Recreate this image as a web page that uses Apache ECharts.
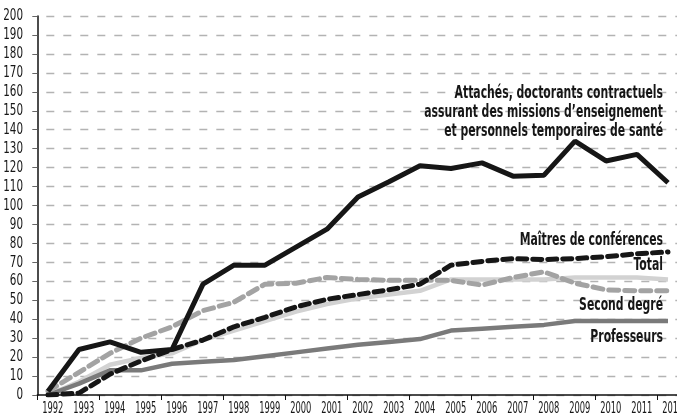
<!DOCTYPE html>
<html>
<head>
<meta charset="utf-8">
<script src="https://cdn.jsdelivr.net/npm/echarts@6/dist/echarts.min.js"></script>
<style>
html,body{margin:0;padding:0;background:#fff;overflow:hidden;width:677px;height:415px;}
#chart{width:689px;height:415px;}
</style>
</head>
<body>
<div id="chart"></div>
<script>
const years = ['1992','1993','1994','1995','1996','1997','1998','1999','2000','2001','2002','2003','2004','2005','2006','2007','2008','2009','2010','2011','2012'];
const attaches = [2,24,28,22.5,24,58.5,68.5,68.5,78,87.5,104.5,112.5,121,119.5,122.5,115.5,116,134,123.5,127,112];
const maitres  = [0,1,11,18,24,29,36,41,46.5,50.5,53,55.5,58.5,68.5,70.5,72,71.5,72,73,74.5,75.5];
const total    = [0,7,16,19.5,22,29,34,39,44,48,51,53,55,61,61,61,61,62,62,62,61];
const second   = [2,12,22,30,36,44.5,49,58.5,59,62,61,60.5,60.5,60.5,58,62,65,59,55.5,55,55];
const profs    = [0,6,13,13,16.5,17.5,18.5,20.5,22.5,24.5,26.5,28,29.5,34,35,36,37,39,39,39,39];
const yTicks = [0,10,20,30,40,50,60,70,80,90,100,110,120,130,140,150,160,170,180,190,200];
const labelsAttaches = ['Attachés, doctorants contractuels', 'assurant des missions d’enseignement', 'et personnels temporaires de santé'];
const labelMaitres = 'Maîtres de conférences';
const labelTotal = 'Total';
const labelSecond = 'Second degré';
const labelProfs = 'Professeurs';

const FONT = '"DejaVu Sans Condensed", "Liberation Sans Narrow", sans-serif';
const pts = arr => years.map((y, i) => [Number(y), arr[i]]);

const chart = echarts.init(document.getElementById('chart'), null, {renderer: 'canvas'});

chart.setOption({
  animation: false,
  backgroundColor: '#fff',
  grid: {left: 37.3, right: 0.7, top: 16, bottom: 20},
  xAxis: [
    {
      type: 'category', data: years, boundaryGap: true,
      axisLine: {lineStyle: {color: '#111', width: 1.5}},
      axisTick: {show: true, length: 5, lineStyle: {color: '#111', width: 1}},
      axisLabel: {show: false},
      splitLine: {show: false}
    },
    {type: 'value', min: 1991.655, max: 2012.655, show: false}
  ],
  yAxis: {
    type: 'value', min: yTicks[0], max: yTicks[yTicks.length - 1], interval: yTicks[1] - yTicks[0],
    axisLine: {show: true, lineStyle: {color: '#111', width: 1.5}},
    axisTick: {show: true, length: 5, lineStyle: {color: '#666'}},
    axisLabel: {show: false},
    splitLine: {show: true, lineStyle: {color: '#b3b3b3', width: 1.3, type: [8, 9], dashOffset: 8}}
  },
  series: [
    {name: 'Total', type: 'line', xAxisIndex: 1, data: pts(total), symbol: 'none', z: 2,
     lineStyle: {color: '#d2d2d2', width: 4.5}},
    {name: 'Professeurs', type: 'line', xAxisIndex: 1, data: pts(profs), symbol: 'none', z: 3,
     lineStyle: {color: '#7a7a7a', width: 4.5}},
    {name: 'Second degré', type: 'line', xAxisIndex: 1, data: pts(second), symbol: 'none', z: 4,
     lineStyle: {color: '#a3a3a3', width: 5, type: [10, 6], cap: 'round'}},
    {name: 'Maîtres de conférences', type: 'line', xAxisIndex: 1, data: pts(maitres), symbol: 'none', z: 5,
     lineStyle: {color: '#161616', width: 5, type: [9, 6], cap: 'round'}},
    {name: 'Attachés', type: 'line', xAxisIndex: 1, data: pts(attaches), symbol: 'none', z: 6,
     lineStyle: {color: '#161616', width: 5}}
  ]
});

function txt(text, x, y, align, size, bold, sx) {
  return {
    type: 'text', x: x, y: y, scaleX: sx, z: 100,
    style: {text: text, x: 0, y: 0, align: align, verticalAlign: 'middle',
            fontFamily: FONT, fontWeight: bold ? 'bold' : 'normal', fontSize: size, fill: '#161616'}
  };
}

const els = [];
// axis tick labels, placed through the library's own axes
years.forEach((y, i) => {
  const px = chart.convertToPixel({xAxisIndex: 0}, i);
  els.push(txt(y, px, 408.5, 'center', 16, false, 0.58));
});
yTicks.forEach(v => {
  const py = chart.convertToPixel({yAxisIndex: 0}, v);
  els.push(txt(String(v), 23, py, 'right', 16, false, 0.72));
});
// series labels
const SX = 0.67;
els.push(txt(labelsAttaches[0], 663, 93, 'right', 18, true, SX));
els.push(txt(labelsAttaches[1], 663, 112.5, 'right', 18, true, SX));
els.push(txt(labelsAttaches[2], 663, 131.5, 'right', 18, true, SX));
els.push(txt(labelMaitres, 663, 240, 'right', 18, true, SX));
els.push(txt(labelTotal, 663, 265, 'right', 18, true, SX));
els.push(txt(labelSecond, 663, 305, 'right', 18, true, SX));
els.push(txt(labelProfs, 663, 337, 'right', 18, true, SX));

chart.setOption({graphic: els});
</script>
</body>
</html>
